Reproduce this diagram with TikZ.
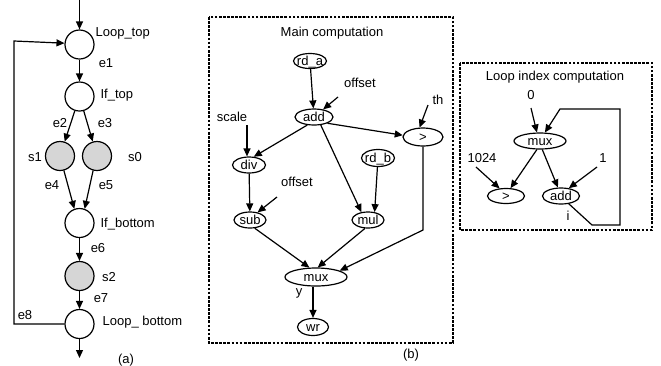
\documentclass[tikz,border=0pt]{standalone}
\usepackage{fontspec}
\setmainfont{Liberation Sans}
\usetikzlibrary{shapes.geometric,arrows.meta}
\newcommand\elt[1]{\makebox[0pt]{\raisebox{-0.36em}[0pt][0pt]{#1}}}
\begin{document}
\begin{tikzpicture}[x=1pt,y=-1pt,
  font=\fontsize{13}{15}\selectfont,
  line width=1.2pt,
  >={Triangle[length=8pt,width=7pt]},
  circ/.style={circle,draw,minimum size=29pt,inner sep=0pt},
  gcirc/.style={circ,fill=black!16},
  ell/.style={ellipse,draw,inner sep=0pt},
  lbl/.style={inner sep=0pt},
  dbox/.style={draw,line width=2.3pt,dash pattern=on 2.7pt off 1.4pt}]
\useasboundingbox (0,0) rectangle (661,365);

% ---------- (a) ----------
\coordinate (top) at (79.5,0);
\node[circ] (lt) at (79.5,44.5) {};
\node[circ] (it) at (79.5,96.5) {};
\node[gcirc] (s1) at (60,156) {};
\node[gcirc] (s0) at (97,156) {};
\node[circ] (ib) at (79.5,223) {};
\node[gcirc] (s2) at (79.5,276) {};
\node[circ] (lb) at (79.5,324) {};
\coordinate (bot) at (79.5,358);
\coordinate (fbl) at (14,324);
\coordinate (ftl) at (14,41);

\node[lbl,anchor=west] (tlt) at (95,33) {Loop\_top};
\node[lbl,anchor=west] (tit) at (100,95) {If\_top};
\node[lbl,anchor=west] (tib) at (100,224) {If\_bottom};
\node[lbl,anchor=west] (tlb) at (102,322) {Loop\_ bottom};
\node[lbl] (e1) at (106,63) {e1};
\node[lbl] (e2) at (60,123) {e2};
\node[lbl] (e3) at (105,123) {e3};
\node[lbl] (e4) at (52,185) {e4};
\node[lbl] (e5) at (106,185) {e5};
\node[lbl] (e6) at (98,248) {e6};
\node[lbl] (e7) at (101,298) {e7};
\node[lbl] (e8) at (25,315) {e8};
\node[lbl] (ts1) at (35,157) {s1};
\node[lbl] (ts0) at (135,157) {s0};
\node[lbl] (ts2) at (109,277) {s2};
\node[lbl] (ta) at (126,360) {(a)};

\draw[->] (top) -- (lt);
\draw[->] (lt) -- (it);
\draw[->] (it) -- (s1);
\draw[->] (it) -- (s0);
\draw[->] (s1.-75) -- (ib.110);
\draw[->] (s0.-105) -- (ib.70);
\draw[->] (ib) -- (s2);
\draw[->] (s2) -- (lb);
\draw[->] (lb) -- (bot);
\draw[->] (lb.west) -- (fbl) -- (ftl) -- (lt.175);

% ---------- (b) ----------
\draw[dbox] (209,17) rectangle (453,343);
\node[lbl] (tmain) at (332,33) {Main computation};
\node[lbl] (tb) at (411,355) {(b)};

\node[ell,minimum width=33pt,minimum height=15pt] (rda) at (310,61) {\elt{rd\_a}};
\node[ell,minimum width=38pt,minimum height=16pt] (add) at (314,117) {\elt{add}};
\node[ell,minimum width=40pt,minimum height=18pt] (gt) at (423,137) {\elt{>}};
\node[ell,minimum width=33pt,minimum height=16pt] (div) at (249,165) {\elt{div}};
\node[ell,minimum width=33pt,minimum height=17pt] (rdb) at (378,158) {\elt{rd\_b}};
\node[ell,minimum width=32pt,minimum height=16pt] (sub) at (250,220) {\elt{sub}};
\node[ell,minimum width=32pt,minimum height=16pt] (mul) at (368,220) {\elt{mul}};
\node[ell,minimum width=62pt,minimum height=18pt] (mux) at (316,277) {\elt{mux}};
\node[ell,minimum width=31pt,minimum height=17pt] (wr) at (313,327) {\elt{wr}};

\node[lbl] (toff1) at (360,83) {offset};
\node[lbl] (tth) at (438,100) {th};
\node[lbl] (tscale) at (232,117) {scale};
\node[lbl] (toff2) at (297,182) {offset};
\node[lbl] (ty) at (299,293) {y};

\coordinate (coff1) at (338,97);
\coordinate (cth) at (428,105);
\coordinate (cscale) at (247,125);
\coordinate (coff2) at (277,197);
\coordinate (gb) at (423,230);

\draw[->] (rda) -- (add);
\draw[->] (coff1) -- (add);
\draw[->] (cth) -- (gt.110);
\draw[->] (cscale) -- (cscale |- div.north);
\draw[->] (add.-130) -- (div.60);
\draw[->] (add.-25) -- (gt.175);
\draw[->] (add.-50) -- (mul.130);
\draw[->] (rdb) -- (mul.50);
\draw[->] (div) -- (sub);
\draw[->] (coff2) -- (sub.45);
\draw[->] (sub.-60) -- (mux.125);
\draw[->] (mul.-110) -- (mux.80);
\draw[->] (gt.south) -- (gb) -- (mux.15);
\draw[->] (wr |- mux.south) -- (wr.north);

% ---------- loop index ----------
\draw[dbox] (460,63) rectangle (652,230);
\node[lbl] (tloop) at (555,77) {Loop index computation};

\node[ell,minimum width=52pt,minimum height=16pt] (mux2) at (540,141) {\elt{mux}};
\node[ell,minimum width=37pt,minimum height=15pt] (gt2) at (506,196) {\elt{>}};
\node[ell,minimum width=37pt,minimum height=16pt] (add2) at (561,196) {\elt{add}};

\node[lbl] (t0) at (531,95) {0};
\node[lbl] (t1024) at (482,158) {1024};
\node[lbl] (t1) at (603,158) {1};
\node[lbl] (ti) at (568,216) {i};

\coordinate (c0) at (531,108);
\coordinate (c1024) at (476,167);
\coordinate (c1) at (597,167);
\coordinate (f1) at (592,225);
\coordinate (f2) at (620,225);
\coordinate (f3) at (620,109);
\coordinate (f4) at (560,109);

\draw[->] (c0) -- (mux2.110);
\draw[->] (c1024) -- (gt2.130);
\draw[->] (c1) -- (add2.45);
\draw[->] (mux2.-110) -- (gt2.60);
\draw[->] (mux2.-75) -- (add2.110);
\draw[->] (add2.-45) -- (f1) -- (f2) -- (f3) -- (f4) -- (mux2.60);
\end{tikzpicture}
\end{document}
